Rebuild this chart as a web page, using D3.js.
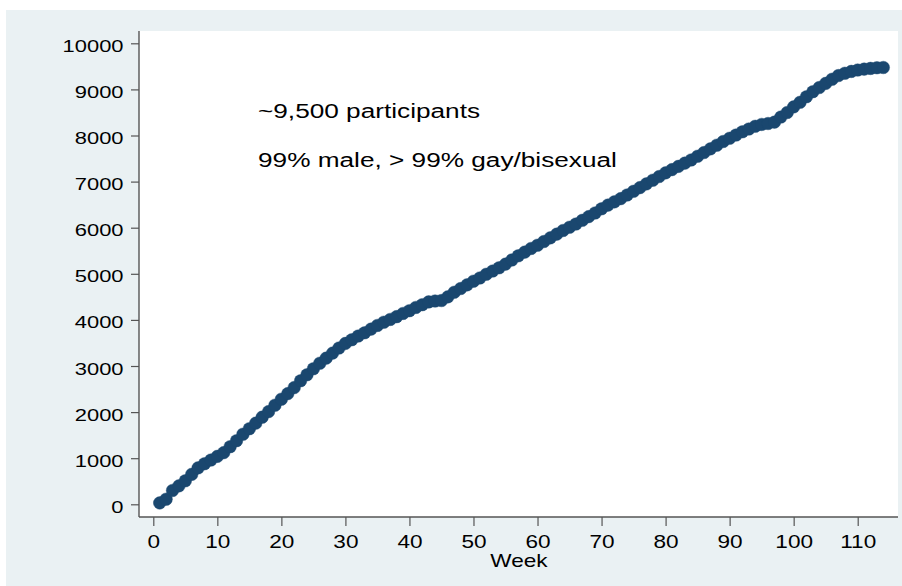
<!DOCTYPE html>
<html>
<head>
<meta charset="utf-8">
<script src="https://cdn.jsdelivr.net/npm/d3@7"></script>
<style>
  html, body { margin: 0; padding: 0; background: #ffffff; }
  svg { display: block; }
  text { font-family: "Liberation Sans", Arial, sans-serif; fill: #000; }
</style>
</head>
<body>
<svg id="chart" width="902" height="586"></svg>
<script>
// ---- data ----
const weeks = d3.range(1, 115);
const participants = [
  30, 110, 300, 400, 510, 650, 790, 880, 960, 1040,
  1120, 1250, 1380, 1520, 1640, 1760, 1890, 2010, 2150, 2280,
  2400, 2530, 2680, 2810, 2940, 3060, 3170, 3280, 3390, 3490,
  3570, 3650, 3720, 3800, 3880, 3950, 4010, 4070, 4140, 4200,
  4270, 4330, 4390, 4410, 4420, 4500, 4600, 4680, 4760, 4840,
  4910, 4990, 5060, 5130, 5210, 5300, 5390, 5470, 5550, 5620,
  5700, 5780, 5860, 5940, 6010, 6080, 6160, 6240, 6320, 6410,
  6490, 6560, 6630, 6710, 6790, 6870, 6950, 7030, 7110, 7190,
  7260, 7330, 7400, 7470, 7550, 7630, 7710, 7790, 7870, 7940,
  8010, 8080, 8140, 8200, 8240, 8260, 8290, 8400, 8500, 8620,
  8720, 8840, 8950, 9040, 9130, 9220, 9300, 9350, 9390, 9420,
  9440, 9455, 9470, 9475
];
const xTicks = [0, 10, 20, 30, 40, 50, 60, 70, 80, 90, 100, 110];
const yTicks = [0, 1000, 2000, 3000, 4000, 5000, 6000, 7000, 8000, 9000, 10000];
const xTitle = "Week";
const notes = ["~9,500 participants", "99% male, > 99% gay/bisexual"];

// ---- layout ----
const svg = d3.select("#chart");
const plot = { left: 139, right: 898, top: 31, bottom: 517 };
const sx = 1.29; // horizontal text stretch of the original

const x = d3.scaleLinear().domain([0, 110]).range([153.3, 857.7]);
const y = d3.scaleLinear().domain([0, 10000]).range([504.3, 43.3]);

// graph region background
svg.append("rect").attr("x", 6).attr("y", 10).attr("width", 896).attr("height", 576)
  .attr("fill", "#eaf1f3");
// plot region
svg.append("rect").attr("x", plot.left).attr("y", plot.top)
  .attr("width", plot.right - plot.left).attr("height", plot.bottom - plot.top)
  .attr("fill", "#ffffff");

// y axis
const gy = svg.append("g").attr("transform", `translate(${plot.left},0)`)
  .call(d3.axisLeft(y).tickValues(yTicks).tickSize(8).tickSizeOuter(0).tickFormat(d3.format("d")));
gy.select(".domain").remove();
gy.selectAll(".tick line").attr("stroke", "#555").attr("stroke-width", 1.2);
gy.selectAll(".tick text")
  .attr("font-size", 17).attr("font-family", "Liberation Sans, Arial, sans-serif")
  .attr("fill", "#000")
  .attr("x", -15.5 / sx).attr("dy", 8).attr("text-anchor", "end")
  .attr("transform", `scale(${sx},1)`);
svg.append("line").attr("x1", plot.left).attr("x2", plot.left)
  .attr("y1", plot.top).attr("y2", plot.bottom).attr("stroke", "#555").attr("stroke-width", 1.4);

// x axis
const gx = svg.append("g").attr("transform", `translate(0,${plot.bottom})`)
  .call(d3.axisBottom(x).tickValues(xTicks).tickSize(9).tickSizeOuter(0).tickFormat(d3.format("d")));
gx.select(".domain").remove();
gx.selectAll(".tick line").attr("stroke", "#555").attr("stroke-width", 1.2);
gx.selectAll(".tick text")
  .attr("font-size", 17.5).attr("font-family", "Liberation Sans, Arial, sans-serif")
  .attr("fill", "#000")
  .attr("y", 31).attr("dy", 0).attr("text-anchor", "middle")
  .attr("transform", `scale(${sx},1)`)
  .attr("x", 0);
svg.append("line").attr("x1", plot.left).attr("x2", plot.right)
  .attr("y1", plot.bottom).attr("y2", plot.bottom).attr("stroke", "#555").attr("stroke-width", 1.4);

// x title
svg.append("text").attr("transform", `translate(519,567) scale(${sx},1)`)
  .attr("text-anchor", "middle").attr("font-size", 17.5).text(xTitle);

// markers
svg.append("g").selectAll("circle").data(weeks).join("circle")
  .attr("cx", (d) => x(d))
  .attr("cy", (d, i) => y(participants[i]))
  .attr("r", 6.3)
  .attr("fill", "#1a476f")
  .attr("stroke", "#1a476f").attr("stroke-width", 0.4);

// annotations
const noteBase = [118, 167];
notes.forEach((t, i) => {
  svg.append("text").attr("transform", `translate(258,${noteBase[i]}) scale(1.31,1)`)
    .attr("font-size", 20).text(t);
});
</script>
</body>
</html>
